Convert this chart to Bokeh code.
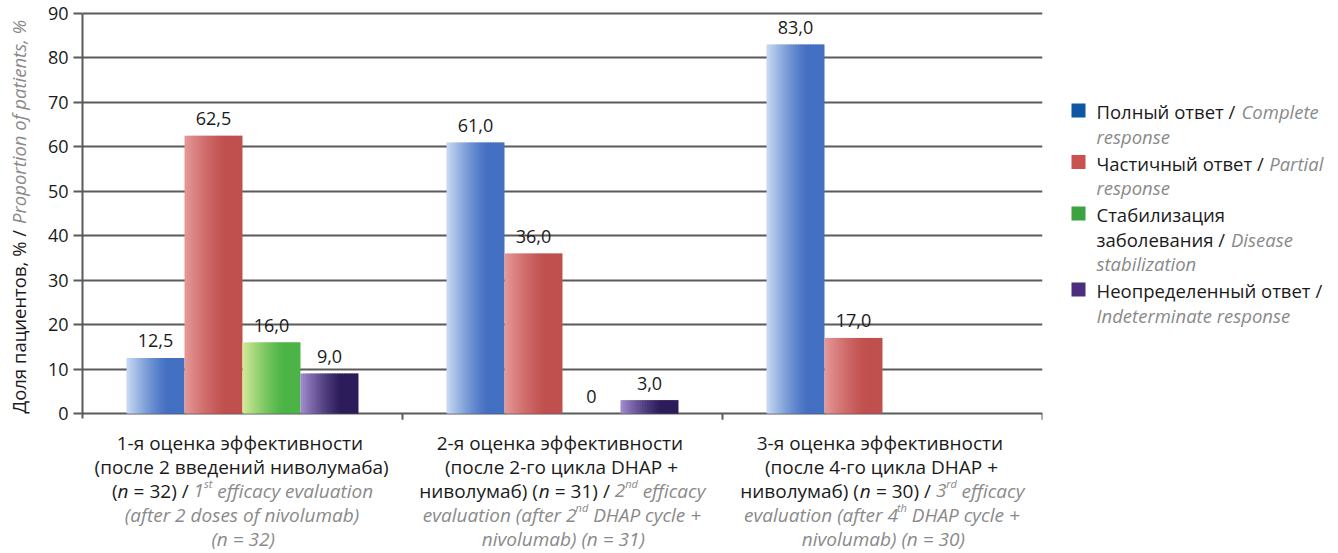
import math
from bokeh.plotting import figure
from bokeh.models import ColumnDataSource, FactorRange, Range1d, LabelSet, FixedTicker
from bokeh.transform import dodge
from bokeh.layouts import row
from bokeh.core.properties import value
from bokeh.embed import file_html
from bokeh.resources import INLINE

# ---------------- data ----------------
categories = ["1-я оценка эффективности", "2-я оценка эффективности", "3-я оценка эффективности"]
complete = [12.5, 61.0, 83.0]
partial = [62.5, 36.0, 17.0]
stabilization = [16.0, 0.0, None]
indeterminate = [9.0, 3.0, None]
y_ticks = [0, 10, 20, 30, 40, 50, 60, 70, 80, 90]

# category label lines: (text, style); K black, Ki black italic, G grey italic, Gs grey italic superscript
cat_lines = [
    [[("1-я оценка эффективности", "K")],
     [("(после 2 введений ниволумаба)", "K")],
     [("(", "K"), ("n", "Ki"), (" = 32) / ", "K"), ("1", "G"), ("st", "Gs"), (" efficacy evaluation", "G")],
     [("(after 2 doses of nivolumab)", "G")],
     [("(n = 32)", "G")]],
    [[("2-я оценка эффективности", "K")],
     [("(после 2-го цикла DHAP +", "K")],
     [("ниволумаб) (", "K"), ("n", "Ki"), (" = 31) / ", "K"), ("2", "G"), ("nd", "Gs"), (" efficacy", "G")],
     [("evaluation (after 2", "G"), ("nd", "Gs"), (" DHAP cycle +", "G")],
     [("nivolumab) (n = 31)", "G")]],
    [[("3-я оценка эффективности", "K")],
     [("(после 4-го цикла DHAP +", "K")],
     [("ниволумаб) (", "K"), ("n", "Ki"), (" = 30) / ", "K"), ("3", "G"), ("rd", "Gs"), (" efficacy", "G")],
     [("evaluation (after 4", "G"), ("th", "Gs"), (" DHAP cycle +", "G")],
     [("nivolumab) (n = 30)", "G")]],
]
y_label = [("Доля пациентов, % / ", "K"), ("Proportion of patients, %", "G")]
legend_entries = [
    [[("Полный ответ / ", "K"), ("Complete", "G")], [("response", "G")]],
    [[("Частичный ответ / ", "K"), ("Partial", "G")], [("response", "G")]],
    [[("Стабилизация", "K")], [("заболевания / ", "K"), ("Disease", "G")], [("stabilization", "G")]],
    [[("Неопределенный ответ /", "K")], [("Indeterminate response", "G")]],
]

series_values = [complete, partial, stabilization, indeterminate]
bar_base = [(68, 112, 194), (192, 80, 77), (76, 180, 70), (44, 28, 90)]
bar_light = [(196, 216, 242), (228, 150, 150), (208, 232, 150), (160, 136, 205)]
legend_colors = ["#0D57A5", "#C9524F", "#3BA441", "#4B2E7D"]

FONT = "Open Sans"
BLACK = "#1a1a1a"
GREY = "#8a8a8a"

# approximate advance widths (em) used to lay out mixed-style lines
W = {" ": 0.26, "(": 0.296, ")": 0.296, ",": 0.25, ".": 0.26, "/": 0.367, "=": 0.571, "+": 0.571,
     "%": 0.834, "-": 0.322,
     "a": 0.556, "b": 0.613, "c": 0.476, "d": 0.613, "e": 0.561, "f": 0.339, "g": 0.548, "h": 0.614,
     "i": 0.253, "j": 0.253, "k": 0.525, "l": 0.253, "m": 0.93, "n": 0.614, "o": 0.604, "p": 0.613,
     "r": 0.408, "s": 0.477, "t": 0.353, "u": 0.614, "v": 0.501, "w": 0.778, "x": 0.524, "y": 0.502,
     "z": 0.457, "A": 0.633, "C": 0.631, "D": 0.722, "H": 0.738, "I": 0.3, "P": 0.595,
     "а": 0.556, "б": 0.6, "в": 0.58, "г": 0.45, "д": 0.6, "е": 0.56, "ж": 0.85, "з": 0.5, "и": 0.63,
     "й": 0.63, "к": 0.55, "л": 0.6, "м": 0.75, "н": 0.63, "о": 0.6, "п": 0.62, "р": 0.61, "с": 0.48,
     "т": 0.48, "у": 0.5, "ф": 0.8, "х": 0.52, "ц": 0.64, "ч": 0.6, "ш": 0.9, "щ": 0.92, "ы": 0.8,
     "ь": 0.57, "э": 0.5, "ю": 0.85, "я": 0.57, "П": 0.73, "Ч": 0.68, "С": 0.63, "Н": 0.74, "Д": 0.69}
for d in "0123456789":
    W[d] = 0.572


def tw(s, size, italic=False):
    return sum(W.get(ch, 0.56) for ch in s) * size * (0.95 if italic else 1.0)


def place(segs, size_of, italic_of, start):
    """Return [(x_start, stripped_text, style)] and the end position for a run of segments."""
    out = []
    x = start
    for t, s in segs:
        lead = t[:len(t) - len(t.lstrip(" "))]
        out.append((x + tw(lead, size_of(s), italic_of(s)), t.strip(), s))
        x += tw(t, size_of(s), italic_of(s))
    return out, x


STYLE = {"K": (BLACK, "normal", 19, 0), "Ki": (BLACK, "italic", 19, 0),
         "G": (GREY, "italic", 19, 0), "Gs": (GREY, "italic", 11, 7)}

# ---------------- geometry ----------------
H = 553
TOP = 10
YL_W = 36                 # width of the y-title strip
P_W = 1010                # main plot width
P_LEFT, P_RIGHT = 46, 4   # frame spans canvas x 82..1042
LG_W = 1338 - YL_W - P_W
BASE_Y = 413              # canvas y of value 0
PPU = (BASE_Y - 13) / 90.0
Y0 = -(H - BASE_Y) / PPU
Y1 = 90 + (BASE_Y - 90 * PPU - TOP) / PPU
BW = 58 / 320.0           # bar width as fraction of a category

# ---------------- main figure ----------------
p = figure(x_range=FactorRange(*categories, range_padding=0), y_range=Range1d(Y0, Y1),
           width=P_W, height=H, min_border_left=P_LEFT, min_border_right=P_RIGHT,
           min_border_top=TOP, min_border_bottom=0,
           output_backend="svg", toolbar_location=None)
p.outline_line_color = None
p.xaxis.visible = False
p.xgrid.visible = False
p.ygrid.ticker = FixedTicker(ticks=y_ticks)
p.ygrid.grid_line_color = "#5a5a5a"
p.ygrid.grid_line_width = 2
p.yaxis.ticker = FixedTicker(ticks=y_ticks)
p.yaxis.bounds = (-1.2, 90)
p.yaxis.axis_line_color = "#5a5a5a"
p.yaxis.axis_line_width = 2
p.yaxis.major_tick_line_color = "#5a5a5a"
p.yaxis.major_tick_line_width = 2
p.yaxis.major_tick_out = 9
p.yaxis.major_tick_in = 0
p.yaxis.minor_tick_line_color = None
p.yaxis.major_label_standoff = 5
p.yaxis.major_label_text_font = FONT
p.yaxis.major_label_text_font_size = "18px"
p.yaxis.major_label_text_color = BLACK

# category boundary ticks under the baseline
bounds_x = [i + 1 for i in range(len(categories))]
p.segment(x0=bounds_x, y0=[0] * len(bounds_x), x1=bounds_x, y1=[-1.4] * len(bounds_x),
          line_color="#5a5a5a", line_width=2)


def blend(c0, c1, f):
    return "#%02x%02x%02x" % tuple(int(round(a + (b - a) * f)) for a, b in zip(c0, c1))


NS = 24
for j, vals in enumerate(series_values):
    off = (j - 1.5) * BW
    tops = [float("nan") if v is None else v for v in vals]
    src = ColumnDataSource(dict(cat=categories, top=tops))
    for k in range(NS):
        left = off - BW / 2 + k * BW / NS
        wk = BW / NS * (1.6 if k < NS - 1 else 1.0)
        f = min(1.0, (k / (NS - 1)) / 0.72)
        f = 1 - (1 - f) ** 1.3
        p.vbar(x=dodge("cat", left + wk / 2, range=p.x_range), top="top", bottom=0, width=wk,
               source=src, fill_color=blend(bar_light[j], bar_base[j], f), line_color=None)
    lab_cat = [c for c, v in zip(categories, vals) if v is not None]
    lab_val = [v for v in vals if v is not None]
    lab_txt = ["0" if v == 0 else ("%.1f" % v).replace(".", ",") for v in lab_val]
    lsrc = ColumnDataSource(dict(cat=lab_cat, val=lab_val, txt=lab_txt))
    p.add_layout(LabelSet(x=dodge("cat", off, range=p.x_range), y="val", text="txt", source=lsrc,
                          y_offset=17, text_align="center", text_baseline="middle",
                          text_font=value(FONT), text_font_size="18px", text_color=BLACK))

# category labels (inside the frame, below the zero line)
cols = dict(cat=[], y=[], xo=[], text=[], color=[], style=[], size=[])
c_size = lambda s: STYLE[s][2]
c_ital = lambda s: STYLE[s][1] == "italic"
for ci, lines in enumerate(cat_lines):
    for li, segs in enumerate(lines):
        total = sum(tw(t, c_size(s), c_ital(s)) for t, s in segs)
        placed, _ = place(segs, c_size, c_ital, -total / 2)
        for x, t, s in placed:
            col, sty, size, rise = STYLE[s]
            cols["cat"].append(categories[ci])
            cols["y"].append((-(29 + 24 * li) + rise) / PPU)
            cols["xo"].append(x)
            cols["text"].append(t)
            cols["color"].append(col)
            cols["style"].append(sty)
            cols["size"].append("%dpx" % size)
p.text(x="cat", y="y", x_offset="xo", text="text", source=ColumnDataSource(cols),
       text_align="left", text_baseline="middle", text_font=value(FONT),
       text_font_size="size", text_color="color", text_font_style="style")

# ---------------- y-title strip ----------------
yl = figure(width=YL_W, height=H, x_range=Range1d(0, YL_W), y_range=p.y_range,
            x_axis_type=None, y_axis_type=None, min_border_left=0, min_border_right=0,
            min_border_top=TOP, min_border_bottom=0, output_backend="svg", toolbar_location=None)
yl.outline_line_color = None
yl.xgrid.visible = False
yl.ygrid.visible = False
total_em = sum(tw(t, 1.0, s != "K") for t, s in y_label)
YFS = min(18.5, 398 / total_em)
placed, _ = place(y_label, lambda s: YFS, lambda s: s != "K", 0.0)
ycols = dict(x=[], y=[], text=[], color=[], style=[])
for pos, t, s in placed:
    ycols["x"].append(18)
    ycols["y"].append(pos / PPU)
    ycols["text"].append(t)
    ycols["color"].append(BLACK if s == "K" else GREY)
    ycols["style"].append("normal" if s == "K" else "italic")
yl.text(x="x", y="y", text="text", source=ColumnDataSource(ycols), angle=math.pi / 2,
        text_align="left", text_baseline="middle", text_font=value(FONT),
        text_font_size="%.1fpx" % YFS, text_color="color", text_font_style="style")

# ---------------- legend panel ----------------
lg = figure(width=LG_W, height=H, x_range=Range1d(0, LG_W), y_range=Range1d(H, TOP),
            x_axis_type=None, y_axis_type=None, min_border_left=0, min_border_right=0,
            min_border_top=TOP, min_border_bottom=0, output_backend="svg", toolbar_location=None)
lg.outline_line_color = None
lg.xgrid.visible = False
lg.ygrid.visible = False

LX_SQ, LX_TXT, LY0, LH, LGAP, LFS = 32, 50, 111, 24.5, 2.5, 18.5
sq_y = []
tcols = dict(x=[], y=[], text=[], color=[], style=[])
yy = LY0
for entry in legend_entries:
    sq_y.append(yy - 1)
    for segs in entry:
        placed, _ = place(segs, lambda s: LFS, lambda s: s != "K", LX_TXT)
        for x, t, s in placed:
            tcols["x"].append(x)
            tcols["y"].append(yy)
            tcols["text"].append(t)
            tcols["color"].append(BLACK if s == "K" else GREY)
            tcols["style"].append("normal" if s == "K" else "italic")
        yy += LH
    yy += LGAP
lg.scatter(x=[LX_SQ] * len(sq_y), y=sq_y, marker="square", size=14, fill_color=legend_colors,
           line_color=None)
lg.text(x="x", y="y", text="text", source=ColumnDataSource(tcols), text_color="color",
        text_font_style="style", text_font=value(FONT), text_font_size="%.1fpx" % LFS,
        text_align="left", text_baseline="middle")

layout = row(yl, p, lg)
open("out.html", "w").write(file_html(layout, INLINE))
